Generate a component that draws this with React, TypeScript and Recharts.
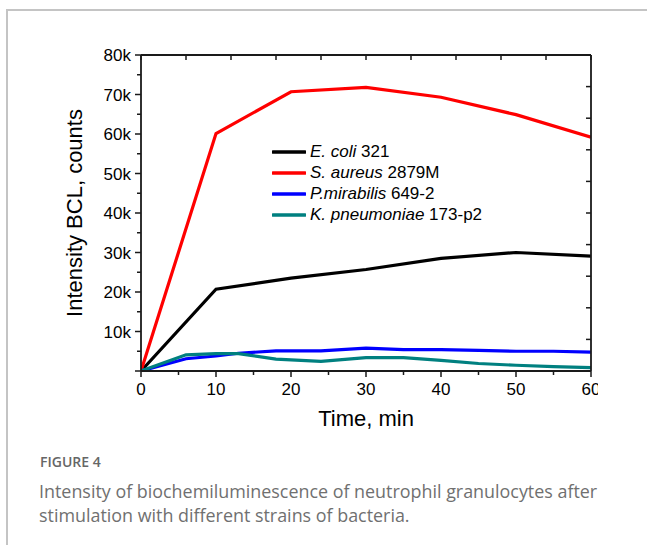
import React from "react";
import {
  LineChart,
  Line,
  XAxis,
  YAxis,
  Legend,
  Label,
} from "recharts";

// time points (min)
const coarseTimes = [0, 10, 20, 30, 40, 50, 60];
const fineTimes = [0, 6, 10, 13, 18, 24, 30, 35, 40, 45, 50, 55, 60];

// intensity BCL, counts
const eColi = [0, 20700, 23500, 25700, 28500, 30000, 29100];
const sAureus = [0, 60100, 70700, 71800, 69300, 64900, 59200];
const pMirabilis = [0, 3100, 3800, 4500, 5100, 5100, 5800, 5400, 5400, 5200, 5000, 5000, 4800];
const kPneumoniae = [0, 4100, 4400, 4400, 3000, 2450, 3400, 3400, 2700, 1900, 1450, 1100, 850];

const xTicks = [0, 5, 10, 15, 20, 25, 30, 35, 40, 45, 50, 55, 60];
const yTicks = [0, 5000, 10000, 15000, 20000, 25000, 30000, 35000, 40000, 45000, 50000, 55000, 60000, 65000, 70000, 75000, 80000];
// mirror (frame) axes: 10 divisions each
const topTicks = [0, 6, 12, 18, 24, 30, 36, 42, 48, 54, 60];
const rightTicks = [0, 8000, 16000, 24000, 32000, 40000, 48000, 56000, 64000, 72000, 80000];

const series = [
  { key: "eColi", species: "E. coli", strain: "321", color: "#000000" },
  { key: "sAureus", species: "S. aureus", strain: "2879M", color: "#ff0000" },
  { key: "pMirabilis", species: "P.mirabilis", strain: "649-2", color: "#0000ff" },
  { key: "kPneumoniae", species: "K. pneumoniae", strain: "173-p2", color: "#008080" },
];

const allTimes = Array.from(new Set([...coarseTimes, ...fineTimes])).sort((a, b) => a - b);
const pick = (times: number[], vals: number[], t: number) => {
  const i = times.indexOf(t);
  return i >= 0 ? vals[i] : null;
};
const tableData = allTimes.map((t) => ({
  t,
  eColi: pick(coarseTimes, eColi, t),
  sAureus: pick(coarseTimes, sAureus, t),
  pMirabilis: pick(fineTimes, pMirabilis, t),
  kPneumoniae: pick(fineTimes, kPneumoniae, t),
}));

const AXIS = "#1a1a1a";
const FONT = "'Liberation Sans', Arial, sans-serif";

const BottomTick = (props: any) => {
  const { x, y, payload } = props;
  const major = payload.value % 10 === 0;
  return (
    <g>
      <line x1={x} y1={y} x2={x} y2={y + (major ? 6 : 4)} stroke={AXIS} strokeWidth={1.5} />
      {major && (
        <text x={x} y={y + 24} textAnchor="middle" fontSize={17} fontFamily={FONT} fill="#000">
          {payload.value}
        </text>
      )}
    </g>
  );
};

const LeftTick = (props: any) => {
  const { x, y, payload } = props;
  const major = payload.value % 10000 === 0;
  return (
    <g>
      <line x1={x} y1={y} x2={x - (major ? 6 : 4)} y2={y} stroke={AXIS} strokeWidth={1.5} />
      {major && payload.value > 0 && (
        <text x={x - 10} y={y + 6} textAnchor="end" fontSize={17} fontFamily={FONT} fill="#000">
          {payload.value / 1000}k
        </text>
      )}
    </g>
  );
};

const TopTick = (props: any) => {
  const { x, y } = props;
  return <line x1={x} y1={y} x2={x} y2={y + 5} stroke={AXIS} strokeWidth={1.5} />;
};

const RightTick = (props: any) => {
  const { x, y } = props;
  return <line x1={x} y1={y} x2={x - 5} y2={y} stroke={AXIS} strokeWidth={1.5} />;
};

const LegendBox = () => (
  <div style={{ fontFamily: FONT, fontSize: 17, color: "#000" }}>
    {series.map((s) => (
      <div key={s.key} style={{ display: "flex", alignItems: "center", height: 20.8 }}>
        <svg width={34} height={6} style={{ marginRight: 4 }}>
          <line x1={1} y1={3} x2={33} y2={3} stroke={s.color} strokeWidth={3.5} strokeLinecap="round" />
        </svg>
        <span style={{ whiteSpace: "nowrap" }}>
          <i>{s.species}</i> {s.strain}
        </span>
      </div>
    ))}
  </div>
);

export default function App() {
  return (
    <div style={{ position: "absolute", left: 0, top: 0, width: 647, height: 545, background: "#fff", overflow: "hidden" }}>
      <div
        style={{
          position: "absolute",
          left: 6,
          top: 9,
          right: 0,
          bottom: 0,
          borderTop: "2px solid #c4c4c4",
          borderLeft: "2px solid #c4c4c4",
        }}
      />
      <div style={{ position: "absolute", left: 0, top: 0 }}>
        <LineChart
          width={598}
          height={440}
          data={tableData}
          margin={{ top: 55, right: 7, bottom: 39, left: 0 }}
        >
          <XAxis
            xAxisId="bottom"
            dataKey="t"
            type="number"
            domain={[0, 60]}
            ticks={xTicks}
            interval={0}
            height={30}
            tickSize={0}
            tickMargin={0}
            tickLine={false}
            axisLine={{ stroke: AXIS, strokeWidth: 1.8 }}
            tick={<BottomTick />}
            allowDataOverflow
          >
            <Label
              value="Time, min"
              position="bottom"
              offset={9}
              style={{ fontSize: 22, fontFamily: FONT, fill: "#000" }}
            />
          </XAxis>
          <XAxis
            xAxisId="top"
            orientation="top"
            mirror
            dataKey="t"
            type="number"
            domain={[0, 60]}
            ticks={topTicks}
            interval={0}
            tickSize={0}
            tickMargin={0}
            tickLine={false}
            tick={<TopTick />}
            axisLine={{ stroke: AXIS, strokeWidth: 1.8 }}
            allowDataOverflow
          />
          <YAxis
            yAxisId="left"
            type="number"
            domain={[0, 80000]}
            ticks={yTicks}
            interval={0}
            width={141}
            tickSize={0}
            tickMargin={0}
            tickLine={false}
            axisLine={{ stroke: AXIS, strokeWidth: 1.8 }}
            tick={<LeftTick />}
            allowDataOverflow
          >
            <Label
              value="Intensity BCL, counts"
              angle={-90}
              position="insideLeft"
              offset={74}
              style={{ textAnchor: "middle", fontSize: 22, fontFamily: FONT, fill: "#000" }}
            />
          </YAxis>
          <YAxis
            yAxisId="right"
            orientation="right"
            mirror
            type="number"
            domain={[0, 80000]}
            ticks={rightTicks}
            interval={0}
            tickSize={0}
            tickMargin={0}
            tickLine={false}
            tick={<RightTick />}
            axisLine={{ stroke: AXIS, strokeWidth: 1.8 }}
            allowDataOverflow
          />
          <Legend
            layout="vertical"
            align="center"
            verticalAlign="middle"
            wrapperStyle={{ left: 272, top: 142, width: "auto" }}
            content={() => <LegendBox />}
          />
          {/* invisible series so the frame axes get a scale */}
          <Line
            xAxisId="top"
            yAxisId="right"
            dataKey="eColi"
            stroke="none"
            strokeWidth={0}
            dot={false}
            activeDot={false}
            legendType="none"
            connectNulls
            isAnimationActive={false}
          />
          {series.map((s) => (
            <Line
              key={s.key}
              xAxisId="bottom"
              yAxisId="left"
              type="linear"
              dataKey={s.key}
              stroke={s.color}
              strokeWidth={3.2}
              dot={false}
              activeDot={false}
              connectNulls
              isAnimationActive={false}
            />
          ))}
        </LineChart>
      </div>
      <div
        style={{
          position: "absolute",
          left: 40,
          top: 455,
          fontFamily: "'Open Sans', sans-serif",
          fontSize: 14,
          lineHeight: "14px",
          fontWeight: 600,
          color: "#666",
        }}
      >
        FIGURE 4
      </div>
      <div
        style={{
          position: "absolute",
          left: 39,
          top: 479,
          fontFamily: "'Open Sans', sans-serif",
          fontSize: 17.9,
          lineHeight: "24px",
          color: "#707070",
          whiteSpace: "nowrap",
        }}
      >
        Intensity of biochemiluminescence of neutrophil granulocytes after
        <br />
        stimulation with different strains of bacteria.
      </div>
    </div>
  );
}
